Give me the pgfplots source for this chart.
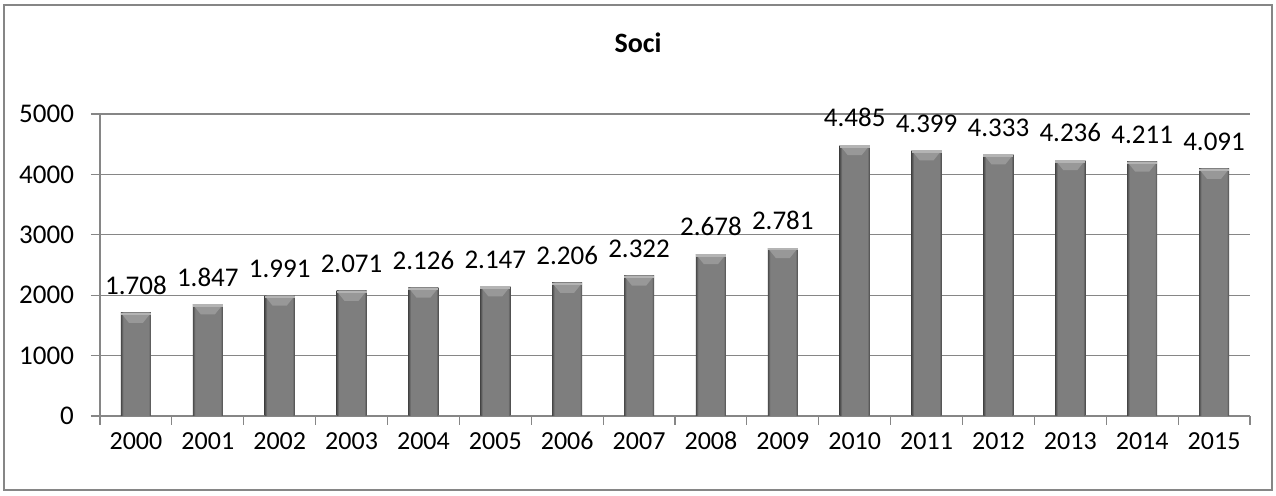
\documentclass[border=0pt]{standalone}
\usepackage{fontspec}
\setmainfont{Carlito}
\usepackage{pgfplots}
\pgfplotsset{compat=1.18}
\definecolor{gridc}{RGB}{134,134,134}
\definecolor{bardark}{RGB}{74,74,74}
\definecolor{barmid}{RGB}{126,126,126}
\definecolor{barlight}{RGB}{180,180,180}
\definecolor{barbev}{RGB}{152,152,152}
\pgfdeclarehorizontalshading{barshade}{100bp}{color(0bp)=(bardark); color(25bp)=(bardark); color(29bp)=(barmid); color(71bp)=(barmid); color(75bp)=(bardark); color(100bp)=(bardark)}
\pgfdeclareplotmark{bevel}{%
  \pgfsetfillcolor{barbev}%
  \pgfpathmoveto{\pgfpoint{-7.5pt}{0pt}}%
  \pgfpathlineto{\pgfpoint{7.5pt}{0pt}}%
  \pgfpathlineto{\pgfpoint{3.5pt}{-5pt}}%
  \pgfpathlineto{\pgfpoint{-3.5pt}{-5pt}}%
  \pgfpathclose
  \pgfusepath{fill}%
  \pgfsetfillcolor{barlight}%
  \pgfpathrectanglecorners{\pgfpoint{-7.5pt}{0pt}}{\pgfpoint{7.5pt}{-1.2pt}}%
  \pgfusepath{fill}%
}
\pgfplotsset{
  barstyle/.style={shading=barshade, draw=none, mark=bevel},
}
\newcommand\onebar[2]{\addplot[barstyle] coordinates {(#1,#2)};}
\begin{document}
\begin{tikzpicture}
\useasboundingbox (-50pt,-40pt) rectangle (588pt,208pt);
\draw[color=gridc, line width=0.8pt] (-48pt,-37pt) rectangle (586pt,205.5pt);
\node[font=\fontsize{14}{16}\selectfont\bfseries] at (269pt,186.5pt) {Soci};
\begin{axis}[
  at={(0,0)}, anchor=south west,
  scale only axis, width=575pt, height=151pt,
  xmin=-0.5, xmax=15.5, ymin=0, ymax=5000,
  ytick={0,1000,2000,3000,4000,5000},
  xtick={0,1,...,15},
  xticklabels={2000,2001,2002,2003,2004,2005,2006,2007,2008,2009,2010,2011,2012,2013,2014,2015},
  major x tick style={draw=none},
  minor xtick={-0.5,0.5,...,15.5},
  tick align=outside, tick pos=left,
  major tick length=4.5pt, minor tick length=4.5pt,
  axis x line*=bottom, axis y line*=left,
  axis line style={draw=gridc, line width=0.6pt, -},
  ymajorgrids, grid style={draw=gridc, line width=0.55pt},
  tick style={draw=gridc, line width=0.6pt},
  ybar, bar width=15pt, bar shift=0pt,
  /pgf/number format/assume math mode=true,
  yticklabel style={font=\fontsize{13.5}{15}\selectfont, /pgf/number format/1000 sep={}, xshift=-5pt},
  xticklabel style={font=\fontsize{13}{15}\selectfont, text height=8.9pt, text depth=0pt, yshift=0pt},
  nodes near coords,
  nodes near coords style={font=\fontsize{13.5}{15}\selectfont, /pgf/number format/1000 sep={.}, yshift=5.5pt, color=black},
]
\onebar{0}{1708}
\onebar{1}{1847}
\onebar{2}{1991}
\onebar{3}{2071}
\onebar{4}{2126}
\onebar{5}{2147}
\onebar{6}{2206}
\onebar{7}{2322}
\onebar{8}{2678}
\onebar{9}{2781}
\onebar{10}{4485}
\onebar{11}{4399}
\onebar{12}{4333}
\onebar{13}{4236}
\onebar{14}{4211}
\onebar{15}{4091}
\end{axis}
\end{tikzpicture}
\end{document}
